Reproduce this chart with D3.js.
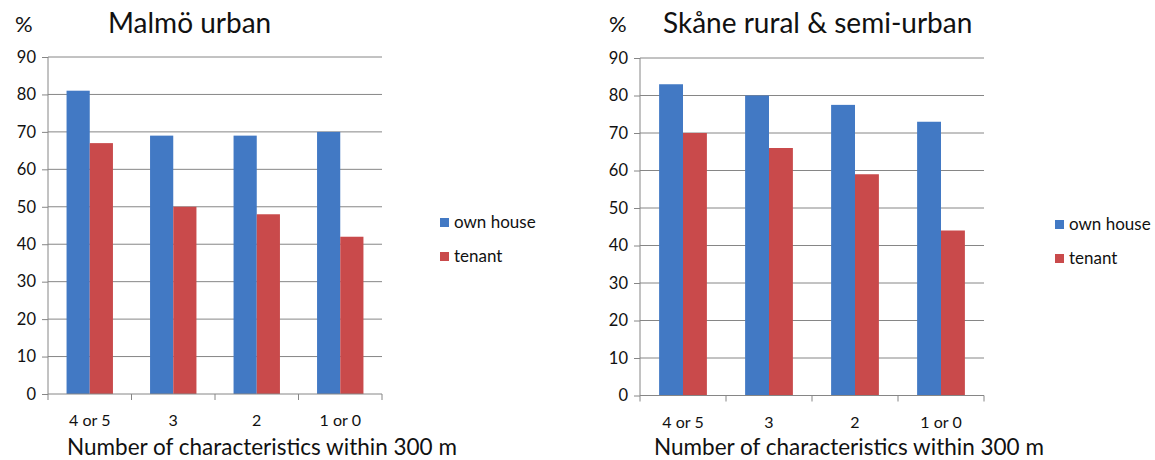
<!DOCTYPE html>
<html><head><meta charset="utf-8">
<script src="https://cdn.jsdelivr.net/npm/d3@7"></script>
<style>body{margin:0;background:#fff}svg{display:block}text{font-family:Lato,"Open Sans",sans-serif;fill:#111}</style>
</head><body><svg id="c" width="1155" height="460"></svg>
<script>
const categories = ["4 or 5", "3", "2", "1 or 0"];
const seriesNames = ["own house", "tenant"];
const malmoOwn = [81, 69, 69, 70];
const malmoTenant = [67, 50, 48, 42];
const skaneOwn = [83, 80, 77.5, 73];
const skaneTenant = [70, 66, 59, 44];
const yTicks = [0, 10, 20, 30, 40, 50, 60, 70, 80, 90];
const titles = ["Malmö urban", "Skåne rural & semi-urban"];
const xTitle = "Number of characteristics within 300 m";
const colors = ["#4279c4", "#c94a4b"];

const svg = d3.select("#c");
const panels = [
  {title: titles[0], own: malmoOwn, ten: malmoTenant, x0: 48, x1: 382, y0: 394, y1: 57, titleX: 108, pctX: 15, legX: 440, legY: 222, xTitleX: 262},
  {title: titles[1], own: skaneOwn, ten: skaneTenant, x0: 640, x1: 984, y0: 395.5, y1: 58, titleX: 663, pctX: 609, legX: 1055, legY: 224, xTitleX: 849}
];

panels.forEach(p => {
  const g = svg.append("g");
  const x = d3.scaleBand().domain(categories).range([p.x0, p.x1]).paddingInner(0).paddingOuter(0);
  const xs = d3.scaleBand().domain(seriesNames).range([0, x.bandwidth()]).paddingInner(0).paddingOuter(0.8);
  const y = d3.scaleLinear().domain([0, 90]).range([p.y0, p.y1]);

  // gridlines
  g.append("g").selectAll("line").data(yTicks.slice(1)).join("line")
    .attr("x1", p.x0).attr("x2", p.x1).attr("y1", d => y(d)).attr("y2", d => y(d))
    .attr("stroke", "#868686").attr("stroke-width", 1);

  // bars
  const data = categories.map((c, i) => [{c, s: seriesNames[0], v: p.own[i]}, {c, s: seriesNames[1], v: p.ten[i]}]).flat();
  g.append("g").selectAll("rect").data(data).join("rect")
    .attr("x", d => x(d.c) + xs(d.s)).attr("width", xs.bandwidth())
    .attr("y", d => y(d.v)).attr("height", d => y(0) - y(d.v))
    .attr("fill", d => colors[seriesNames.indexOf(d.s)]);

  // y axis
  const ya = d3.axisLeft(y).tickValues(yTicks).tickSize(6).tickPadding(6);
  const yg = g.append("g").attr("transform", `translate(${p.x0},0)`).call(ya);
  yg.select(".domain").attr("stroke", "#868686").attr("d", `M0,${p.y0}V${p.y1}`);
  yg.selectAll(".tick line").attr("stroke", "#868686");
  yg.selectAll("text").style("font-size", "16.5px").attr("fill", "#111");

  // x axis
  const xa = g.append("g").attr("transform", `translate(0,${p.y0})`);
  xa.append("line").attr("x1", p.x0).attr("x2", p.x1).attr("stroke", "#868686");
  const bounds = categories.map(c => x(c)).concat([p.x1]);
  xa.selectAll("line.t").data(bounds).join("line").attr("class", "t")
    .attr("x1", d => d).attr("x2", d => d).attr("y1", 0).attr("y2", 6).attr("stroke", "#868686");
  xa.selectAll("text").data(categories).join("text")
    .attr("x", d => x(d) + xs(seriesNames[0]) + xs.bandwidth()).attr("y", 32)
    .attr("text-anchor", "middle").style("font-size", "16px").text(d => d);

  // titles
  g.append("text").attr("x", p.pctX).attr("y", 32).style("font-size", "22px").text("%");
  g.append("text").attr("x", p.titleX).attr("y", 33).style("font-size", "28px").text(p.title);
  g.append("text").attr("x", p.xTitleX).attr("y", 455).attr("text-anchor", "middle").style("font-size", "22.5px").text(xTitle);

  // legend
  const lg = g.append("g").attr("transform", `translate(${p.legX},${p.legY})`);
  seriesNames.forEach((s, i) => {
    lg.append("rect").attr("x", 0).attr("y", i * 34 - 4).attr("width", 9).attr("height", 9).attr("fill", colors[i]);
    lg.append("text").attr("x", 14).attr("y", i * 34 + 6).style("font-size", "17px").text(s);
  });
});
</script></body></html>
